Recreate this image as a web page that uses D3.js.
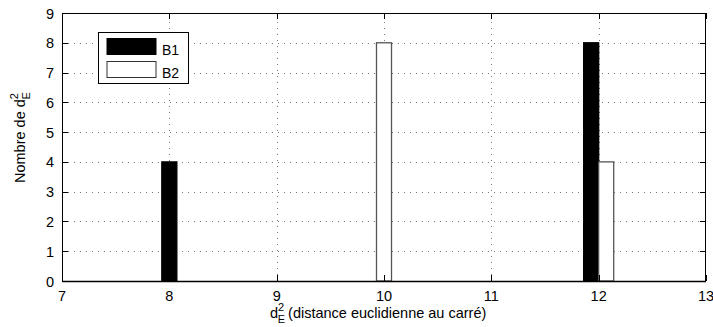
<!DOCTYPE html>
<html>
<head>
<meta charset="utf-8">
<script src="https://cdn.jsdelivr.net/npm/d3@7"></script>
<style>
  body { margin: 0; background: #fff; }
  text { font-family: "Liberation Sans", Arial, Helvetica, sans-serif; fill: #000; }
</style>
</head>
<body>
<svg id="chart"></svg>
<script>
// données
const categories = [8, 10, 12];
const seriesNames = ["B1", "B2"];
const b1Values = [4, 0, 8];
const b2Values = [0, 8, 4];
const xTicks = [7, 8, 9, 10, 11, 12, 13];
const yTicks = [0, 1, 2, 3, 4, 5, 6, 7, 8, 9];

const width = 713, height = 327;
const margin = {top: 13, right: 7, bottom: 46, left: 62};
const barWidth = 0.14; // en unités de x
const tickLen = 6;

const svg = d3.select("#chart")
    .attr("width", width)
    .attr("height", height);

const x = d3.scaleLinear().domain([7, 13]).range([margin.left, width - margin.right]);
const y = d3.scaleLinear().domain([0, 9]).range([height - margin.bottom, margin.top]);

const x0 = x.range()[0], x1 = x.range()[1];
const y0 = y.range()[0], y1 = y.range()[1];

// fond
svg.append("rect")
    .attr("x", x0).attr("y", y1)
    .attr("width", x1 - x0).attr("height", y0 - y1)
    .attr("fill", "#fff");

// grille pointillée
const grid = svg.append("g")
    .attr("stroke", "#7a7a7a")
    .attr("stroke-width", 1)
    .attr("stroke-dasharray", "1,5");

grid.selectAll(".gy")
    .data(yTicks.slice(1, -1))
    .enter().append("line")
    .attr("x1", x0).attr("x2", x1)
    .attr("y1", d => Math.round(y(d)) + 0.5)
    .attr("y2", d => Math.round(y(d)) + 0.5);

grid.selectAll(".gx")
    .data(xTicks.slice(1, -1))
    .enter().append("line")
    .attr("y1", y0).attr("y2", y1)
    .attr("x1", d => Math.round(x(d)) + 0.5)
    .attr("x2", d => Math.round(x(d)) + 0.5);

// barres
const bars = [];
categories.forEach((c, i) => {
    const vals = [b1Values[i], b2Values[i]];
    const both = vals[0] > 0 && vals[1] > 0;
    vals.forEach((v, s) => {
        if (v <= 0) return;
        const left = both ? c - barWidth + s * barWidth : c - barWidth / 2;
        bars.push({series: s, left: left, value: v});
    });
});

svg.append("g").selectAll("rect")
    .data(bars)
    .enter().append("rect")
    .attr("x", d => x(d.left))
    .attr("y", d => y(d.value))
    .attr("width", d => x(d.left + barWidth) - x(d.left))
    .attr("height", d => y(0) - y(d.value))
    .attr("fill", d => d.series === 0 ? "#000" : "#fff")
    .attr("stroke", d => d.series === 0 ? "#000" : "#555")
    .attr("stroke-width", 1.3);

// cadre + graduations
const axes = svg.append("g").attr("stroke", "#000").attr("stroke-width", 1);

axes.append("rect")
    .attr("x", x0 + 0.5).attr("y", y1 + 0.5)
    .attr("width", x1 - x0 - 1).attr("height", y0 - y1)
    .attr("fill", "none");

axes.append("line")
    .attr("x1", x0).attr("x2", x1)
    .attr("y1", y0 + 0.5).attr("y2", y0 + 0.5)
    .attr("stroke-width", 1.6);

axes.selectAll(".ty")
    .data(yTicks)
    .enter().append("path")
    .attr("d", d => {
        const yy = Math.round(y(d)) + 0.5;
        return `M${x0},${yy}h${tickLen}M${x1},${yy}h${-tickLen}`;
    });

axes.selectAll(".tx")
    .data(xTicks)
    .enter().append("path")
    .attr("d", d => {
        const xx = Math.round(x(d)) + 0.5;
        return `M${xx},${y0}v${-tickLen}M${xx},${y1}v${tickLen}`;
    });

// étiquettes des graduations
svg.append("g").selectAll("text")
    .data(yTicks)
    .enter().append("text")
    .attr("x", x0 - 8)
    .attr("y", d => y(d) + 5.5)
    .attr("text-anchor", "end")
    .attr("font-size", "14.5px")
    .text(d => d);

svg.append("g").selectAll("text")
    .data(xTicks)
    .enter().append("text")
    .attr("x", d => x(d))
    .attr("y", y0 + 19.5)
    .attr("text-anchor", "middle")
    .attr("font-size", "14.5px")
    .text(d => d);

// titres des axes
const xLabel = svg.append("text")
    .attr("x", 270)
    .attr("y", 318)
    .attr("font-size", "14.5px");
xLabel.append("tspan").text("d");
xLabel.append("tspan").attr("font-size", "11px").attr("dy", -7).text("2");
xLabel.append("tspan").attr("font-size", "11px").attr("dx", -6.5).attr("dy", 12).text("E");
xLabel.append("tspan").attr("dy", -5).attr("dx", 3).text("(distance euclidienne au carré)");

const yLabel = svg.append("text")
    .attr("transform", "translate(25,183) rotate(-90)")
    .attr("font-size", "14.5px");
yLabel.append("tspan").text("Nombre de d");
yLabel.append("tspan").attr("font-size", "11px").attr("dy", -7).text("2");
yLabel.append("tspan").attr("font-size", "11px").attr("dx", -6.5).attr("dy", 12).text("E");

// légende
const legend = svg.append("g");
legend.append("rect")
    .attr("x", 98.5).attr("y", 32.5)
    .attr("width", 90).attr("height", 51)
    .attr("fill", "#fff").attr("stroke", "#000").attr("stroke-width", 1);

const items = legend.selectAll(".item")
    .data(seriesNames)
    .enter().append("g")
    .attr("transform", (d, i) => `translate(0,${i * 23})`);

items.append("rect")
    .attr("x", 107).attr("y", 38.5)
    .attr("width", 49).attr("height", 16)
    .attr("fill", (d, i) => i === 0 ? "#000" : "#fff")
    .attr("stroke", (d, i) => i === 0 ? "#000" : "#333")
    .attr("stroke-width", 1);

items.append("text")
    .attr("x", 162).attr("y", 54.5)
    .attr("font-size", "14px")
    .text(d => d);
</script>
</body>
</html>
